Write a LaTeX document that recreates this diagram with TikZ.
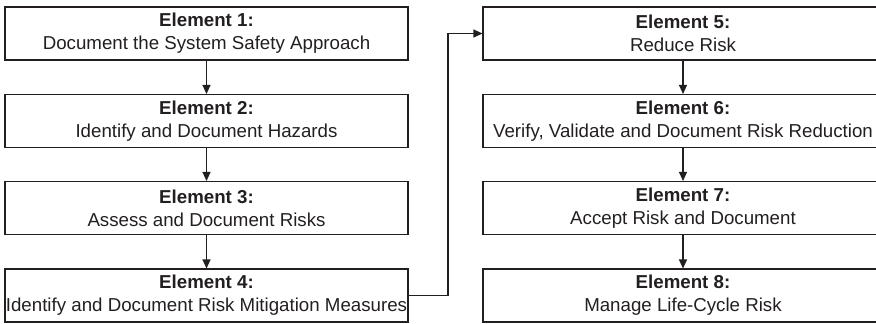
\documentclass[tikz,border=0pt]{standalone}
\usepackage{fontspec}
\setmainfont{Liberation Sans}
\usetikzlibrary{arrows.meta}
\definecolor{ink}{HTML}{231F20}
\begin{document}
\begin{tikzpicture}[x=1pt,y=-1pt,
  element/.style={draw=ink, line width=1.1pt, rectangle, inner sep=0pt,
    minimum height=53pt, align=center, text=ink,
    font=\fontsize{18.7}{23}\selectfont},
  leftel/.style={element, minimum width=403pt},
  rightel/.style={element, minimum width=400pt},
  flow/.style={draw=ink, line width=1.1pt, -{Triangle[length=9pt,width=8pt]}}
]
\useasboundingbox (0,0) rectangle (876,324);

% left column
\node[leftel] (e1) at (206.5,33.5) {\textbf{Element 1:}\\Document the System Safety Approach};
\node[leftel] (e2) at (206.5,121)  {\textbf{Element 2:}\\Identify and Document Hazards};
\node[leftel] (e3) at (206.5,208)  {\textbf{Element 3:}\\Assess and Document Risks};
\node[leftel] (e4) at (206.5,295.5){\textbf{Element 4:}\\Identify and Document Risk Mitigation Measures};

% right column (runs past the right margin)
\node[rightel] (e5) at (683,33.5) {\textbf{Element 5:}\\Reduce Risk};
\node[rightel] (e6) at (683,121)  {\textbf{Element 6:}\\Verify, Validate and Document Risk Reduction};
\node[rightel] (e7) at (683,208)  {\textbf{Element 7:}\\Accept Risk and Document};
\node[rightel] (e8) at (683,295.5){\textbf{Element 8:}\\Manage Life-Cycle Risk};

% connectors
\draw[flow] (e1) -- (e2);
\draw[flow] (e2) -- (e3);
\draw[flow] (e3) -- (e4);
\coordinate (turnlow) at (448,295.5);
\coordinate (turnhigh) at (448,33.5);
\draw[flow] (e4.east) -- (turnlow) -- (turnhigh) -- (e5.west);
\draw[flow] (e5) -- (e6);
\draw[flow] (e6) -- (e7);
\draw[flow] (e7) -- (e8);
\end{tikzpicture}
\end{document}
